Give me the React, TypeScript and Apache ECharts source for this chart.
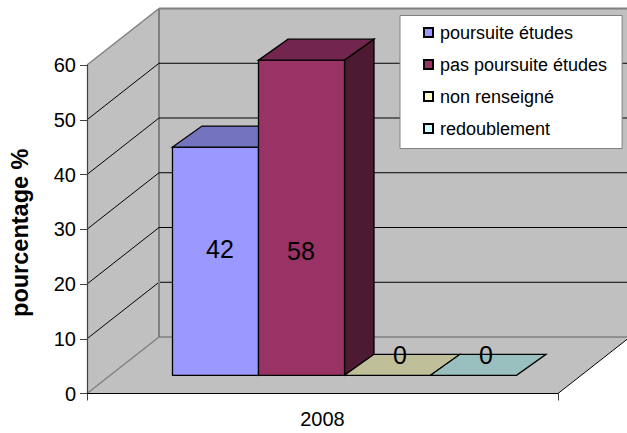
import React, { useEffect, useRef } from "react";
import * as echarts from "echarts";

const categories = ["2008"];
const seriesNames = ["poursuite études", "pas poursuite études", "non renseigné", "redoublement"];
const seriesValues = [42, 58, 0, 0];
const gridValues = [10, 20, 30, 40, 50];
const FONT = '"Liberation Sans", Arial, sans-serif';

const frontColors = ["#9999FF", "#993366", "#FFFFCC", "#CCFFFF"];
const topColors = ["#7373BF", "#73264D", "#BFBF99", "#99BFBF"];
const sideColors = ["#4D4D80", "#4D1A33", "#80806A", "#668080"];
const labelX = [220, 301, 400, 486];
const labelY = [249, 251, 354.5, 354.5];

const WALL_DX = 72;
const WALL_DY = -56.5;
const BAR_DX = 29.5;
const BAR_DY = -21;
const FRONT_OFFSET_Y = -18.2;
const BAR_SCALE = 0.9925;

const line = (x1: number, y1: number, x2: number, y2: number, stroke: string, lineWidth = 1) => ({
  type: "line",
  shape: { x1, y1, x2, y2 },
  style: { stroke, lineWidth },
  silent: true,
});
const poly = (points: number[][], fill: string | undefined, stroke: string | undefined, lineWidth = 1.3) => ({
  type: "polygon",
  shape: { points },
  style: { fill, stroke, lineWidth, lineJoin: "miter" },
  silent: true,
});

export default function App() {
  const ref = useRef<HTMLDivElement>(null);
  useEffect(() => {
    const chart = echarts.init(ref.current!, undefined, { renderer: "svg" });

    const wallSeries = {
      type: "custom",
      name: "walls",
      z: 1,
      silent: true,
      clip: false,
      data: gridValues.map((v) => [categories[0], v]),
      renderItem: (params: any, api: any) => {
        const v = api.value(1);
        const [xl, y] = api.coord([categories[0], v]);
        const band = api.size([1, 0])[0];
        const xb = xl - band / 2;
        const children: any[] = [
          line(xb, y, xb + WALL_DX, y + WALL_DY, "#000000"),
          line(xb + WALL_DX, y + WALL_DY, 627, y + WALL_DY, "#000000"),
        ];
        if (params.dataIndex === 0) {
          const [, y0] = api.coord([categories[0], 0]);
          const [, yt] = api.coord([categories[0], 60]);
          const xr = xb + band;
          children.unshift(
            poly([[xb, y0], [xb + WALL_DX, y0 + WALL_DY], [xb + WALL_DX, yt + WALL_DY], [xb, yt]], "#C0C0C0", undefined, 0),
            poly([[xb + WALL_DX, y0 + WALL_DY], [627, y0 + WALL_DY], [627, yt + WALL_DY], [xb + WALL_DX, yt + WALL_DY]], "#C0C0C0", undefined, 0),
            poly([[xb, y0], [xr, y0], [xr + WALL_DX, y0 + WALL_DY], [xb + WALL_DX, y0 + WALL_DY]], "#C0C0C0", undefined, 0),
          );
          children.push(
            line(xb, yt, xb + WALL_DX, yt + WALL_DY, "#808080", 1.5),
            line(xb + WALL_DX, yt + WALL_DY, 627, yt + WALL_DY, "#808080", 2),
            line(xb + WALL_DX, yt + WALL_DY, xb + WALL_DX, y0 + WALL_DY, "#808080", 2),
            line(xb + WALL_DX, y0 + WALL_DY, 627, y0 + WALL_DY, "#808080", 1.5),
            line(xb, y0, xb + WALL_DX, y0 + WALL_DY, "#808080", 1.5),
            line(xr, y0, xr + WALL_DX, y0 + WALL_DY, "#000000", 1),
          );
        }
        return { type: "group", children };
      },
    };

    const barSeries = seriesNames.map((name, i) => ({
      type: "custom",
      name,
      z: 3 + i,
      clip: false,
      itemStyle: { color: frontColors[i], borderColor: "#000000", borderWidth: 1.3 },
      data: [[categories[0], seriesValues[i]]],
      renderItem: (_: any, api: any) => {
        const [cx, y0] = api.coord([categories[0], 0]);
        const [, yv] = api.coord([categories[0], api.value(1)]);
        const band = api.size([1, 0])[0];
        const w = band * 0.1826;
        const xl = cx - 2 * w + 22 + i * w;
        const xr = xl + w;
        const base = y0 + FRONT_OFFSET_Y;
        const top = base - (y0 - yv) * BAR_SCALE;
        const children: any[] = [];
        if (api.value(1) > 0) {
          children.push(
            poly([[xr, base], [xr + BAR_DX, base + BAR_DY], [xr + BAR_DX, top + BAR_DY], [xr, top]], sideColors[i], "#000000"),
            poly([[xl, base], [xr, base], [xr, top], [xl, top]], frontColors[i], "#000000"),
          );
        }
        children.push(poly([[xl, top], [xr, top], [xr + BAR_DX, top + BAR_DY], [xl + BAR_DX, top + BAR_DY]], topColors[i], "#000000"));
        children.push({
          type: "text",
          z2: 10,
          silent: true,
          style: {
            text: String(api.value(1)),
            x: labelX[i],
            y: labelY[i],
            fill: "#000000",
            font: `25px ${FONT}`,
            align: "center",
            verticalAlign: "middle",
          },
        });
        return { type: "group", children };
      },
    }));

    chart.setOption({
      animation: false,
      backgroundColor: "#FFFFFF",
      grid: { left: 87, right: 69, top: 65, bottom: 39.5, containLabel: false, outerBoundsMode: "none" },
      legend: {
        show: true,
        orient: "vertical",
        data: seriesNames,
        left: 400,
        top: 15.5,
        z: 20,
        padding: [8, 15, 11, 23],
        backgroundColor: "#FFFFFF",
        borderColor: "#808080",
        borderWidth: 1,
        borderRadius: 0,
        itemWidth: 9,
        itemHeight: 9,
        itemGap: 14,
        icon: "rect",
        selectedMode: false,
        textStyle: { fontFamily: FONT, fontSize: 18, color: "#000000", padding: [0, 0, 0, 2] },
      },
      xAxis: {
        type: "category",
        data: categories,
        axisLine: { lineStyle: { color: "#000000", width: 1 } },
        axisTick: { show: true, length: 7, lineStyle: { color: "#404040" } },
        axisLabel: { fontFamily: FONT, fontSize: 20, color: "#000000", margin: 15 },
        z: 10,
      },
      yAxis: {
        type: "value",
        min: 0,
        max: 60,
        interval: 10,
        splitLine: { show: false },
        axisLine: { show: true, lineStyle: { color: "#404040", width: 1.2 } },
        axisTick: { show: true, length: 7, lineStyle: { color: "#404040" } },
        axisLabel: { fontFamily: FONT, fontSize: 20, color: "#000000", margin: 11 },
        name: "pourcentage %",
        nameLocation: "middle",
        nameGap: 55,
        nameTextStyle: { fontFamily: FONT, fontSize: 23.5, fontWeight: "bold", color: "#000000", padding: [0, 7, 0, 0] },
        z: 10,
      },
      series: [wallSeries, ...barSeries],
    });
    return () => chart.dispose();
  }, []);
  return <div ref={ref} style={{ position: "fixed", left: 0, top: 0, width: 627, height: 433 }} />;
}
